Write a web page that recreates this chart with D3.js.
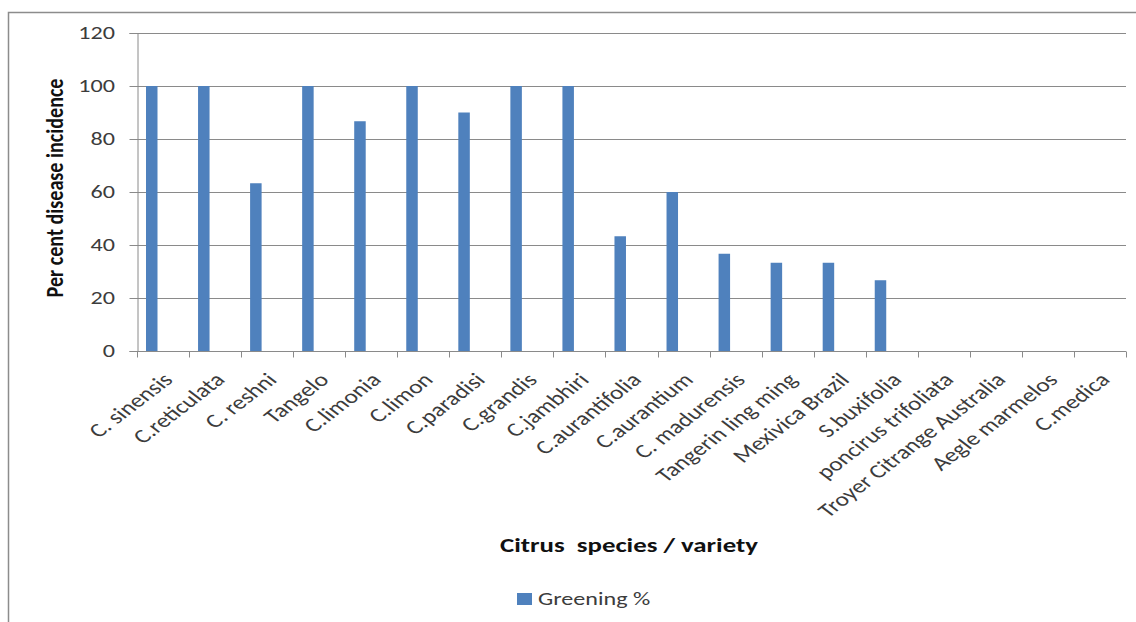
<!DOCTYPE html>
<html>
<head>
<meta charset="utf-8">
<script src="https://cdn.jsdelivr.net/npm/d3@7"></script>
<style>
  html, body { margin: 0; padding: 0; background: #fff; }
  svg { display: block; }
  text { font-family: Carlito, "Open Sans", "Liberation Sans", sans-serif; }
</style>
</head>
<body>
<svg id="chart" width="1136" height="622"></svg>
<script>
// Citrus species / varieties and their greening incidence (%)
const categories = [
  "C. sinensis", "C.reticulata", "C. reshni", "Tangelo", "C.limonia", "C.limon",
  "C.paradisi", "C.grandis", "C.jambhiri", "C.aurantifolia", "C.aurantium",
  "C. madurensis", "Tangerin ling ming", "Mexivica Brazil", "S.buxifolia",
  "poncirus trifoliata", "Troyer Citrange Australia", "Aegle marmelos", "C.medica"
];
const greening = [100, 100, 63.3, 100, 86.7, 100, 90, 100, 100, 43.3, 60, 36.7, 33.3, 33.3, 26.7, 0, 0, 0, 0];
const yTicks = [0, 20, 40, 60, 80, 100, 120];
const seriesName = "Greening %";
const xTitle = "Citrus  species / variety";
const yTitle = "Per cent disease incidence";

const svg = d3.select("#chart");
const barColor = "#4f81bd";
const gridColor = "#8a8a8a";
const textColor = "#3c3c3c";
const stretch = 1.38;      // horizontal widening of the lettering
const labelStretch = 1.3;  // widening used for the slanted category names

// chart frame (partly clipped on the right and bottom)
svg.append("rect")
  .attr("x", 8.5).attr("y", 12.5)
  .attr("width", 1140).attr("height", 620)
  .attr("fill", "none").attr("stroke", "#8c8c8c").attr("stroke-width", 1.5);

const plot = { left: 137, right: 1126, top: 33, bottom: 351 };

const x = d3.scaleBand().domain(categories).range([plot.left, plot.right]).padding(0);
const y = d3.scaleLinear().domain([0, 120]).range([plot.bottom, plot.top]);

// horizontal gridlines
svg.append("g")
  .selectAll("line")
  .data(yTicks.filter(t => t > 0))
  .join("line")
  .attr("x1", plot.left).attr("x2", plot.right)
  .attr("y1", d => Math.round(y(d)) + 0.5).attr("y2", d => Math.round(y(d)) + 0.5)
  .attr("stroke", gridColor).attr("stroke-width", 1);

// y axis line and ticks
const yAxis = svg.append("g")
  .attr("transform", `translate(${plot.left + 0.5},0)`)
  .call(d3.axisLeft(y).tickValues(yTicks).tickSize(8).tickFormat(""));
yAxis.select(".domain").attr("stroke", gridColor);
yAxis.selectAll(".tick line").attr("stroke", gridColor);

// y tick labels
svg.append("g")
  .selectAll("text")
  .data(yTicks)
  .join("text")
  .attr("transform", d => `translate(115,${y(d)}) scale(${stretch},1)`)
  .attr("text-anchor", "end")
  .attr("dy", "0.34em")
  .attr("fill", textColor)
  .style("font-size", "17.5px")
  .text(d => d);

// bars
const barW = 11.5;
const barOffset = 9;
svg.append("g")
  .selectAll("rect")
  .data(categories.map((c, i) => ({ c, v: greening[i] })))
  .join("rect")
  .attr("x", d => x(d.c) + barOffset)
  .attr("width", barW)
  .attr("y", d => y(d.v))
  .attr("height", d => y(0) - y(d.v))
  .attr("fill", barColor);

// x axis with ticks at category boundaries
const xAxisG = svg.append("g").attr("transform", `translate(0,${Math.round(y(0)) + 0.5})`);
xAxisG.append("line")
  .attr("x1", plot.left).attr("x2", plot.right)
  .attr("stroke", gridColor);
const boundaries = categories.map(c => x(c)).concat([plot.right]);
xAxisG.selectAll("line.tk")
  .data(boundaries)
  .join("line")
  .attr("class", "tk")
  .attr("x1", d => Math.round(d) + 0.5).attr("x2", d => Math.round(d) + 0.5)
  .attr("y1", 0).attr("y2", 6)
  .attr("stroke", gridColor);

// rotated category labels
svg.append("g")
  .selectAll("text")
  .data(categories)
  .join("text")
  .attr("transform", d => `translate(${x(d) + x.bandwidth() / 2 + 11},${plot.bottom + 30}) scale(${labelStretch},1) rotate(-45)`)
  .attr("text-anchor", "end")
  .attr("fill", textColor)
  .style("font-size", "19.5px")
  .text(d => d);

// axis titles
svg.append("text")
  .attr("transform", `translate(63,188) scale(${stretch},1) rotate(-90)`)
  .attr("text-anchor", "middle")
  .attr("font-weight", "bold")
  .style("font-size", "17.5px")
  .attr("fill", "#111")
  .attr("textLength", 219)
  .attr("lengthAdjust", "spacingAndGlyphs")
  .text(yTitle);

svg.append("text")
  .attr("x", 629).attr("y", 552)
  .attr("text-anchor", "middle")
  .attr("font-weight", "bold")
  .style("font-size", "20.5px")
  .attr("fill", "#111")
  .attr("textLength", 258)
  .attr("lengthAdjust", "spacingAndGlyphs")
  .style("white-space", "pre")
  .text(xTitle);

// legend
const legend = svg.append("g").attr("transform", "translate(517,593)");
legend.append("rect").attr("width", 15).attr("height", 12).attr("fill", barColor);
legend.append("text")
  .attr("transform", `translate(21,12) scale(${stretch},1)`)
  .attr("fill", textColor)
  .style("font-size", "17.5px")
  .text(seriesName);
</script>
</body>
</html>
